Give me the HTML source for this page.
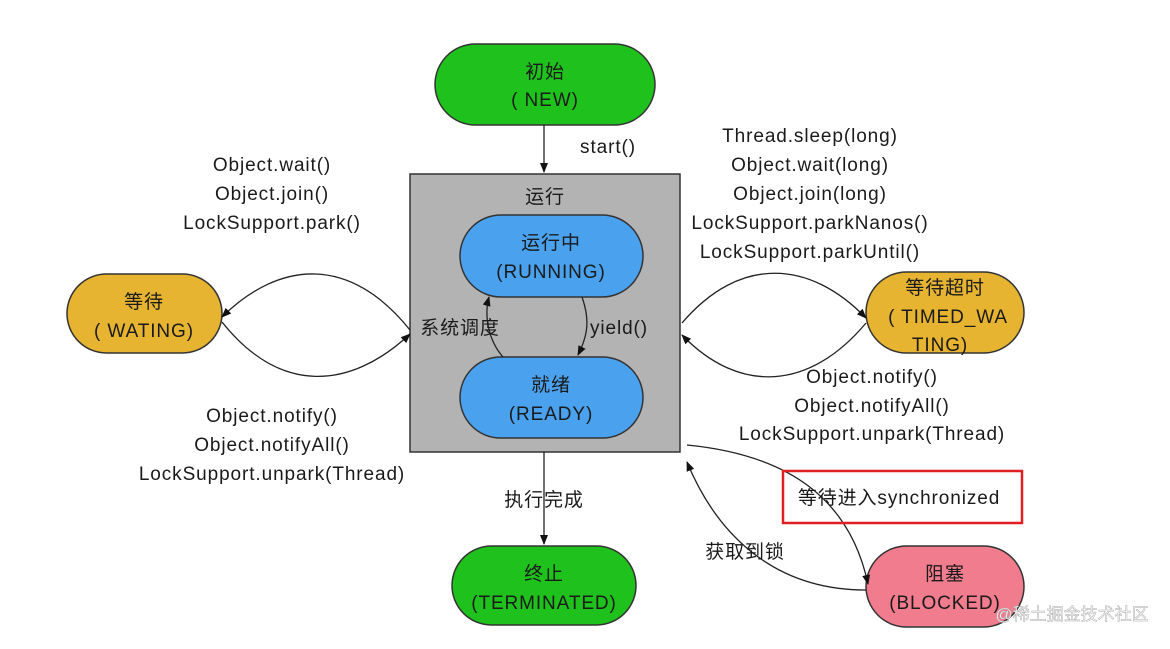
<!DOCTYPE html>
<html><head><meta charset="utf-8"><style>
html,body{margin:0;padding:0;background:#fff;}
svg text{font-family:"Liberation Sans","Noto Sans CJK SC",sans-serif;font-size:19px;letter-spacing:0.9px;fill:#1a1a1a;text-anchor:middle;}
</style></head><body>
<svg width="1170" height="644" viewBox="0 0 1170 644" xmlns="http://www.w3.org/2000/svg">
<defs><marker id="a" markerWidth="10" markerHeight="10" refX="9" refY="5" orient="auto" markerUnits="userSpaceOnUse"><path d="M0,1 L10,5 L0,9 z" fill="#111"/></marker></defs>
<rect x="410" y="174" width="270" height="278" fill="#b3b3b3" stroke="#333" stroke-width="1.5"/>
<text x="545" y="203">运行</text>
<rect x="435" y="44" width="220" height="81" rx="40.5" fill="#1fc21c" stroke="#333" stroke-width="1.5"/>
<text x="545" y="78">初始</text><text x="545" y="106">( NEW)</text>
<rect x="460" y="215" width="183" height="82" rx="41" fill="#4aa2ee" stroke="#333" stroke-width="1.5"/>
<text x="551" y="249">运行中</text><text x="551" y="278">(RUNNING)</text>
<rect x="460" y="357" width="183" height="81" rx="40.5" fill="#4aa2ee" stroke="#333" stroke-width="1.5"/>
<text x="551" y="391">就绪</text><text x="551" y="420">(READY)</text>
<rect x="67" y="274" width="155" height="79" rx="39.5" fill="#e6b431" stroke="#333" stroke-width="1.5"/>
<text x="144" y="308">等待</text><text x="144" y="337">( WATING)</text>
<rect x="866" y="272" width="158" height="81" rx="40.5" fill="#e6b431" stroke="#333" stroke-width="1.5"/>
<text x="945" y="294">等待超时</text><text x="948" y="323">( TIMED_WA</text><text x="940" y="351">TING)</text>
<rect x="452" y="546" width="184" height="79" rx="39.5" fill="#1fc21c" stroke="#333" stroke-width="1.5"/>
<text x="544" y="580">终止</text><text x="544" y="609">(TERMINATED)</text>
<rect x="866" y="546" width="158" height="81" rx="40.5" fill="#f17c8e" stroke="#333" stroke-width="1.5"/>
<text x="945" y="580">阻塞</text><text x="945" y="609">(BLOCKED)</text>
<g fill="none" stroke="#222" stroke-width="1.3">
<path d="M544,125 L544,172" marker-end="url(#a)"/>
<path d="M544,452 L544,544" marker-end="url(#a)"/>
<path d="M410,330 C350,255 280,260 222,317" marker-end="url(#a)"/>
<path d="M222,322 C280,395 350,390 410,334" marker-end="url(#a)"/>
<path d="M682,323 C740,255 810,260 866,318" marker-end="url(#a)"/>
<path d="M866,323 C810,390 740,395 682,335" marker-end="url(#a)"/>
<path d="M582,297 C590,320 588,335 578,355" marker-end="url(#a)"/>
<path d="M503,357 C488,340 484,315 489,297" marker-end="url(#a)"/>
<path d="M687,445 C790,455 850,500 868,584" marker-end="url(#a)"/>
<path d="M866,590 C770,590 715,530 687,462" marker-end="url(#a)"/>
</g>
<text x="608" y="153">start()</text>
<text x="460" y="334">系统调度</text>
<text x="619" y="334">yield()</text>
<text x="544" y="506">执行完成</text>
<text x="272" y="171">Object.wait()</text>
<text x="272" y="200">Object.join()</text>
<text x="272" y="229">LockSupport.park()</text>
<text x="272" y="422">Object.notify()</text>
<text x="272" y="451">Object.notifyAll()</text>
<text x="272" y="480">LockSupport.unpark(Thread)</text>
<text x="810" y="142">Thread.sleep(long)</text>
<text x="810" y="171">Object.wait(long)</text>
<text x="810" y="200">Object.join(long)</text>
<text x="810" y="229">LockSupport.parkNanos()</text>
<text x="810" y="258">LockSupport.parkUntil()</text>
<text x="872" y="383">Object.notify()</text>
<text x="872" y="412">Object.notifyAll()</text>
<text x="872" y="440">LockSupport.unpark(Thread)</text>
<rect x="783" y="471" width="239" height="52" fill="none" stroke="#e02020" stroke-width="2.5"/>
<text x="899" y="504">等待进入synchronized</text>
<text x="745" y="558">获取到锁</text>
<text x="1072" y="620" style="font-size:17px;letter-spacing:0;fill:#fff;stroke:#aaa;stroke-width:0.5">@稀土掘金技术社区</text>
</svg>
</body></html>
